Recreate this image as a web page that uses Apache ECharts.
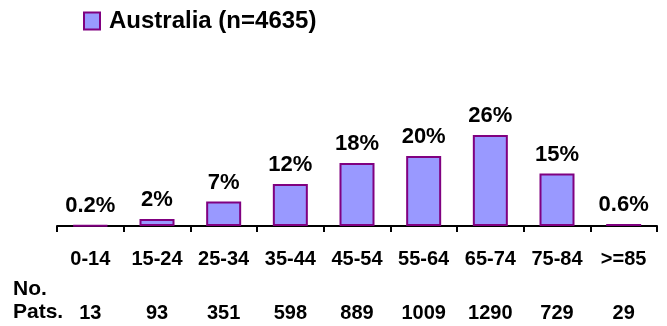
<!DOCTYPE html>
<html>
<head>
<meta charset="utf-8">
<script src="https://cdn.jsdelivr.net/npm/echarts@6/dist/echarts.min.js"></script>
<style>
  html, body { margin: 0; padding: 0; background: #fff; }
  #chart { width: 667px; height: 326px; }
</style>
</head>
<body>
<div id="chart"></div>
<script>
// Age groups, share of patients (%) and number of patients per group
const ageGroups = ['0-14', '15-24', '25-34', '35-44', '45-54', '55-64', '65-74', '75-84', '>=85'];
const sharePct = [0.2, 2, 7, 12, 18, 20, 26, 15, 0.6];
const patientCounts = [13, 93, 351, 598, 889, 1009, 1290, 729, 29];
const seriesName = 'Australia (n=4635)';
const rowTitle = ['No.', 'Pats.'];

const FONT = '"Liberation Sans", Arial, sans-serif';

const chart = echarts.init(document.getElementById('chart'), null, { renderer: 'canvas' });

chart.setOption({
  animation: false,
  backgroundColor: '#ffffff',
  textStyle: { fontFamily: FONT },
  legend: {
    left: 78,
    top: 4,
    icon: 'rect',
    itemWidth: 16,
    itemHeight: 17,
    textStyle: {
      fontFamily: FONT,
      fontWeight: 'bold',
      fontSize: 24,
      color: '#000',
      padding: [0, 0, 0, 4]
    },
    data: [seriesName]
  },
  grid: { left: 57, right: 10, top: 86, bottom: 100, containLabel: false },
  xAxis: [
    {
      type: 'category',
      data: ageGroups,
      axisLine: { lineStyle: { color: '#000', width: 2 } },
      axisTick: { show: true, length: 6, lineStyle: { color: '#000', width: 2 } },
      axisLabel: {
        margin: 23,
        fontFamily: FONT,
        fontWeight: 'bold',
        fontSize: 20,
        color: '#000'
      }
    },
    {
      type: 'category',
      data: ageGroups,
      position: 'bottom',
      axisLine: { show: false },
      axisTick: { show: false },
      axisLabel: {
        margin: 77,
        fontFamily: FONT,
        fontWeight: 'bold',
        fontSize: 20,
        color: '#000',
        formatter: (v, i) => String(patientCounts[i])
      }
    }
  ],
  yAxis: {
    type: 'value',
    min: 0,
    max: 40,
    show: false,
    splitLine: { show: false }
  },
  series: [
    {
      name: seriesName,
      type: 'bar',
      xAxisIndex: 0,
      data: sharePct,
      barWidth: 35,
      itemStyle: { color: '#9999FF', borderColor: '#800080', borderWidth: 2 },
      label: {
        show: true,
        position: 'top',
        distance: 8,
        fontFamily: FONT,
        fontWeight: 'bold',
        fontSize: 22,
        color: '#000',
        formatter: p => p.value + '%'
      }
    }
  ],
  graphic: [
    {
      type: 'text',
      left: 13,
      top: 279,
      style: { text: rowTitle[0], font: 'bold 21px ' + FONT, fill: '#000' }
    },
    {
      type: 'text',
      left: 13,
      top: 302,
      style: { text: rowTitle[1], font: 'bold 21px ' + FONT, fill: '#000' }
    }
  ]
});
</script>
</body>
</html>
